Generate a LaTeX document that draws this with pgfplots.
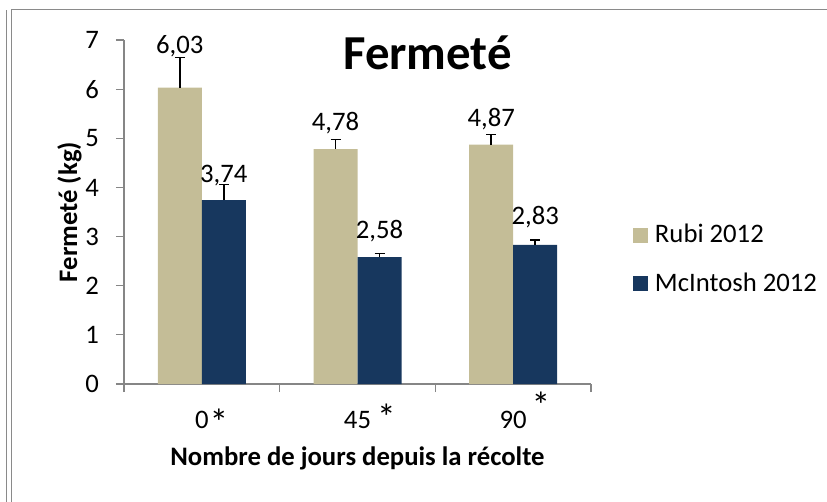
\documentclass[border=0pt]{standalone}
\usepackage{pgfplots}
\usepackage{pgfplotstable}
\pgfplotsset{compat=1.18}
\usepackage{fontspec}
\setmainfont{Carlito}

\definecolor{rubi}{HTML}{C4BD97}
\definecolor{mcin}{HTML}{17375E}
\definecolor{axgray}{HTML}{868686}
\definecolor{framegray}{HTML}{8A8A8A}

% x  value  error(+)  label offset above bar (bp)
\pgfplotstableread{
x y err dy
0 6.03 0.61 34
1 4.78 0.19 19
2 4.87 0.21 18
}\rubi
\pgfplotstableread{
x y err dy
0 3.74 0.32 18
1 2.58 0.08 19
2 2.83 0.10 20
}\mcin

\newcommand{\basefont}{\fontsize{26.8}{31}\selectfont}
\newcommand{\signif}[1]{\raisebox{#1}{\scalebox{1.4}{*}}}

\begin{document}
\begin{tikzpicture}
\useasboundingbox (0,0) rectangle (827bp,-502bp);
% chart frame
\draw[framegray, line width=1.5bp] (6.5bp,-10bp) -- (6.5bp,-502bp);
\draw[framegray, line width=1.5bp] (11.5bp,-502bp) -- (11.5bp,-9.7bp) -- (827bp,-9.7bp);

\begin{axis}[
    at={(124bp,-384bp)}, anchor=south west,
    scale only axis,
    width=467bp, height=344bp,
    ybar=0pt, bar width=44bp,
    xmin=-0.5, xmax=2.5,
    ymin=0, ymax=7,
    axis x line*=bottom, axis y line*=left,
    axis line style={axgray, line width=1.2bp},
    every tick/.style={axgray, line width=1.2bp},
    tick align=outside,
    major tick length=8bp,
    ytick={0,1,2,3,4,5,6,7},
    xtick={-0.5,0.5,1.5,2.5},
    xticklabels={},
    extra x ticks={0,1,2},
    extra x tick labels={0\rlap{\kern1bp\signif{-7bp}},45\rlap{\kern6bp\signif{-2bp}},90\rlap{\kern5bp\signif{10bp}}},
    extra x tick style={major tick length=0pt,
        tick label style={anchor=base, yshift=-44bp}},
    tick label style={font=\basefont},
    yticklabel style={anchor=east, inner sep=0pt, xshift=-17bp},
    /pgf/number format/assume math mode=true,
    title={Fermeté},
    title style={at={(rel axis cs:0.650,0.898)}, anchor=base,
        font=\fontsize{49}{55}\selectfont\bfseries},
    ylabel={Fermeté (kg)},
    ylabel style={at={(rel axis cs:-0.1006,0.5)}, rotate=0, anchor=base,
        font=\basefont\bfseries},
    xlabel={Nombre de jours depuis la récolte},
    xlabel style={at={(rel axis cs:0.5,-0.2355)}, anchor=base,
        font=\basefont\bfseries},
    legend style={at={(rel axis cs:1.0899,0.463)}, anchor=north west,
        draw=none, fill=none, inner sep=0pt, outer sep=0pt,
        row sep=24.5bp, column sep=7bp, font=\basefont,
        nodes={inner sep=0pt, text height=18bp, text depth=6bp},
        cells={anchor=base west}},
    legend image code/.code={\fill[#1] (0bp,0bp) rectangle (15bp,15bp);},
    point meta=y,
    nodes near coords={\pgfmathprintnumber[fixed,fixed zerofill,precision=2,use comma,assume math mode=true]{\pgfplotspointmeta}},
    visualization depends on={\thisrow{dy} \as \labdy},
    nodes near coords style={anchor=base, yshift=\labdy bp, font=\basefont, black, inner sep=0pt},
    error bars/y dir=plus,
    error bars/y explicit,
    error bars/error mark=-,
    error bars/error bar style={draw=black, line width=1.4bp},
    error bars/error mark options={draw=black, line width=1.4bp, mark size=5bp, rotate=90},
]
\addplot[fill=rubi, draw=none] table[x=x, y=y, y error=err] {\rubi};
\addplot[fill=mcin, draw=none] table[x=x, y=y, y error=err] {\mcin};
\legend{Rubi 2012, McIntosh 2012}
\end{axis}
\end{tikzpicture}
\end{document}
